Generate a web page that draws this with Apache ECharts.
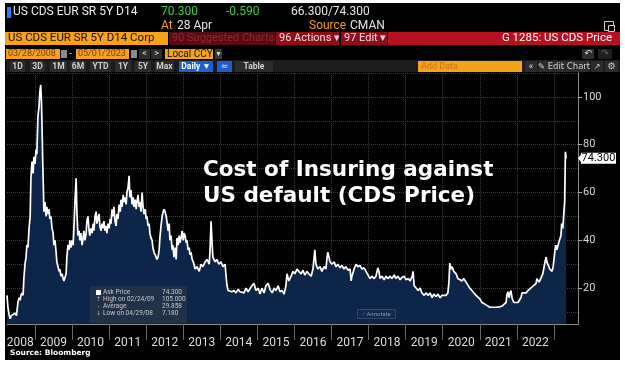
<!DOCTYPE html>
<html>
<head>
<meta charset="utf-8">
<script src="https://cdn.jsdelivr.net/npm/echarts@6.0.0/dist/echarts.min.js"></script>
<style>
  html, body { margin: 0; padding: 0; background: #fff; }
  #frame { position: absolute; left: 5px; top: 3px; width: 615px; height: 357px; background: #000; }
  #chart { position: absolute; left: 0; top: 0; width: 625px; height: 369px; }
</style>
</head>
<body>
<div id="frame"></div>
<div id="chart"></div>
<script>
// dates as decimal years
var dates = [
  2008.245, 2008.27, 2008.30, 2008.33, 2008.36, 2008.41, 2008.46, 2008.50, 2008.54, 2008.57,
  2008.60, 2008.62, 2008.65, 2008.68, 2008.70, 2008.73, 2008.76, 2008.78, 2008.81, 2008.84,
  2008.87, 2008.89, 2008.92, 2008.95, 2008.97, 2009.00, 2009.03, 2009.05, 2009.08, 2009.11,
  2009.13, 2009.155, 2009.175, 2009.19, 2009.21, 2009.23, 2009.24, 2009.27, 2009.30, 2009.32,
  2009.35, 2009.38, 2009.40, 2009.43, 2009.46, 2009.49, 2009.51, 2009.54, 2009.57, 2009.59,
  2009.62, 2009.65, 2009.67, 2009.70, 2009.73, 2009.76, 2009.78, 2009.81, 2009.84, 2009.86,
  2009.89, 2009.92, 2009.94, 2009.97, 2010.00, 2010.03, 2010.05, 2010.08, 2010.11, 2010.13,
  2010.16, 2010.19, 2010.21, 2010.24, 2010.27, 2010.30, 2010.32, 2010.35, 2010.38, 2010.40,
  2010.43, 2010.46, 2010.48, 2010.51, 2010.54, 2010.57, 2010.59, 2010.62, 2010.65, 2010.67,
  2010.70, 2010.73, 2010.75, 2010.78, 2010.81, 2010.83, 2010.86, 2010.89, 2010.92, 2010.94,
  2010.97, 2011.00, 2011.03, 2011.05, 2011.08, 2011.11, 2011.13, 2011.16, 2011.19, 2011.21,
  2011.24, 2011.27, 2011.30, 2011.32, 2011.35, 2011.38, 2011.40, 2011.43, 2011.46, 2011.48,
  2011.51, 2011.54, 2011.56, 2011.59, 2011.62, 2011.65, 2011.67, 2011.70, 2011.73, 2011.75,
  2011.78, 2011.81, 2011.83, 2011.86, 2011.89, 2011.91, 2011.94, 2011.97, 2012.00, 2012.02,
  2012.05, 2012.08, 2012.10, 2012.13, 2012.16, 2012.18, 2012.21, 2012.24, 2012.27, 2012.29,
  2012.32, 2012.35, 2012.37, 2012.40, 2012.43, 2012.46, 2012.48, 2012.51, 2012.54, 2012.56,
  2012.59, 2012.62, 2012.64, 2012.67, 2012.70, 2012.72, 2012.75, 2012.78, 2012.81, 2012.83,
  2012.86, 2012.89, 2012.91, 2012.94, 2012.97, 2013.00, 2013.02, 2013.05, 2013.08, 2013.10,
  2013.13, 2013.16, 2013.18, 2013.21, 2013.24, 2013.27, 2013.29, 2013.32, 2013.37, 2013.43,
  2013.48, 2013.53, 2013.59, 2013.64, 2013.70, 2013.72, 2013.75, 2013.78, 2013.80, 2013.86,
  2013.91, 2013.96, 2014.02, 2014.07, 2014.13, 2014.15, 2014.18, 2014.21, 2014.26, 2014.31,
  2014.37, 2014.42, 2014.48, 2014.53, 2014.58, 2014.64, 2014.69, 2014.75, 2014.80, 2014.85,
  2014.91, 2014.96, 2015.02, 2015.07, 2015.12, 2015.18, 2015.23, 2015.29, 2015.34, 2015.40,
  2015.45, 2015.50, 2015.56, 2015.61, 2015.67, 2015.72, 2015.77, 2015.80, 2015.85, 2015.91,
  2015.96, 2016.01, 2016.07, 2016.12, 2016.18, 2016.23, 2016.28, 2016.34, 2016.39, 2016.45,
  2016.50, 2016.55, 2016.58, 2016.63, 2016.69, 2016.74, 2016.80, 2016.85, 2016.88, 2016.90,
  2016.96, 2017.01, 2017.07, 2017.12, 2017.17, 2017.23, 2017.28, 2017.34, 2017.39, 2017.44,
  2017.50, 2017.53, 2017.55, 2017.61, 2017.66, 2017.71, 2017.77, 2017.82, 2017.88, 2017.93,
  2017.98, 2018.04, 2018.09, 2018.15, 2018.20, 2018.25, 2018.28, 2018.31, 2018.36, 2018.42,
  2018.47, 2018.52, 2018.58, 2018.63, 2018.69, 2018.74, 2018.79, 2018.85, 2018.90, 2018.96,
  2019.01, 2019.07, 2019.12, 2019.18, 2019.20, 2019.23, 2019.28, 2019.34, 2019.39, 2019.44,
  2019.50, 2019.55, 2019.61, 2019.66, 2019.71, 2019.76, 2019.82, 2019.87, 2019.93, 2019.98,
  2020.03, 2020.09, 2020.14, 2020.17, 2020.19, 2020.22, 2020.25, 2020.30, 2020.36, 2020.41,
  2020.46, 2020.52, 2020.57, 2020.63, 2020.68, 2020.73, 2020.79, 2020.84, 2020.90, 2020.95,
  2021.00, 2021.06, 2021.11, 2021.17, 2021.22, 2021.27, 2021.33, 2021.38, 2021.44, 2021.49,
  2021.54, 2021.60, 2021.65, 2021.71, 2021.73, 2021.76, 2021.79, 2021.81, 2021.84, 2021.87,
  2021.89, 2021.92, 2021.97, 2022.03, 2022.08, 2022.11, 2022.14, 2022.19, 2022.25, 2022.30,
  2022.35, 2022.41, 2022.46, 2022.52, 2022.54, 2022.60, 2022.65, 2022.70, 2022.76, 2022.79,
  2022.81, 2022.84, 2022.89, 2022.95, 2022.98, 2023.03, 2023.05, 2023.08, 2023.13, 2023.19,
  2023.21, 2023.24, 2023.27, 2023.29, 2023.31, 2023.33
];
// ask price
var askPrice = [
  17, 12, 9, 7.2, 8.5, 8, 9.5, 8.5, 14, 16,
  15, 17, 18, 17, 24, 30, 33, 38, 37, 45,
  50, 66, 73, 68, 75, 72, 78, 76, 92, 96,
  102, 105, 98, 88, 72, 60, 52, 56, 50, 54,
  51, 53, 49, 50, 45, 43, 38, 40, 35, 31,
  29, 27, 28, 25, 26, 24, 23, 22.5, 26, 33,
  38, 36, 40, 37, 40, 38, 45, 57, 66, 52,
  42, 44, 40, 43, 38, 41, 44, 40, 43, 48,
  50, 44, 42, 45, 43, 47, 44, 50, 52, 47,
  49, 51, 46, 44, 47, 45, 48, 44, 46, 43,
  47, 45, 49, 47, 53, 50, 54, 48, 46, 51,
  49, 55, 52, 57, 54, 59, 56, 58, 55, 60,
  62, 67, 58, 61, 55, 58, 54, 57, 53, 56,
  59, 54, 56, 52, 60, 55, 51, 53, 49, 50,
  46, 47, 43, 41, 40, 37, 35, 34, 33, 32,
  33, 36, 41, 46, 50, 52, 53, 52, 50, 48,
  44, 47, 40, 42, 36, 38, 33, 37, 32, 41,
  38, 42, 39, 41, 44, 40, 43, 42, 39, 40,
  36, 37, 34, 35, 32, 31, 30, 28, 29, 27,
  30, 29, 31, 32, 30, 35, 48, 38, 33, 31,
  32, 30, 31, 29, 30, 26, 21, 19, 19.5, 18.5,
  19, 18, 19.5, 18.5, 19, 18, 20, 18.5, 19, 21,
  22, 19, 20, 17.5, 20, 18, 21, 22, 19.5, 18,
  20, 19, 21, 18.5, 19, 17.5, 21, 26, 23, 25,
  27, 26, 28, 27, 26, 27.5, 25.5, 27, 26, 25,
  28, 36, 30, 28, 29, 27, 29, 28, 33, 35,
  31, 30, 31, 29, 30, 28.5, 29.5, 28, 29, 27.5,
  28, 23, 25, 28, 30, 29, 29.5, 28, 28.5, 27,
  27.5, 24, 25, 24, 25, 28.5, 27, 24, 25, 23.5,
  25, 24, 25, 24, 25.5, 24, 25, 23.5, 24.5, 25,
  23.5, 24, 23, 25, 27, 21, 20.5, 19, 20, 18,
  17, 18, 17, 18, 16, 17.5, 16.5, 17.5, 16, 17,
  16.5, 17, 18, 23, 30.5, 28, 29, 27, 26, 24,
  24.5, 23, 24, 22.5, 22, 20, 19, 18, 17, 16.5,
  15.5, 14, 13.5, 13, 12.5, 12, 12, 11.8, 12, 12,
  12.2, 12.5, 13, 14, 17, 18.5, 16, 17.5, 19, 16,
  15, 14, 14, 14, 14, 16, 18, 18.5, 18, 19,
  19.5, 20.5, 21, 22, 24, 22.5, 23, 26, 31, 33,
  31, 30.5, 28, 27, 29, 36, 38, 36, 39, 42,
  47, 45, 52, 56, 77, 74.3
];
var yearTicks = [2009, 2010, 2011, 2012, 2013, 2014, 2015, 2016, 2017, 2018, 2019, 2020, 2021, 2022, 2023];
var yearLabelPos = [2008.6, 2009.5, 2010.5, 2011.5, 2012.5, 2013.5, 2014.5, 2015.5, 2016.5, 2017.5, 2018.5, 2019.5, 2020.5, 2021.5, 2022.5];
var priceLabels = [20, 40, 60, 80, 100];
var priceGrid = [10, 20, 30, 40, 50, 60, 70, 80, 90, 100, 110];
var statNames = ['Ask Price', 'High on 02/24/09', 'Average', 'Low on 04/29/08'];
var statValues = ['74.300', '105.000', '29.858', '7.180'];

var seriesData = [];
for (var i = 0; i < Math.min(dates.length, askPrice.length); i++) {
  seriesData.push([dates[i], askPrice[i]]);
}

var chart = echarts.init(document.getElementById('chart'), null, { renderer: 'canvas' });

var option = {
  animation: false,
  backgroundColor: 'transparent',
  grid: { left: 7, right: 47, top: 73, bottom: 45, containLabel: false },
  xAxis: {
    type: 'value',
    min: 2008.245,
    max: 2023.65,
    axisLine: { show: true, lineStyle: { color: '#8c8c8c', width: 1 } },
    axisTick: { show: true, customValues: yearTicks, length: 16, lineStyle: { color: '#6a6a6a' } },
    splitLine: { show: true, lineStyle: { type: 'dotted', color: '#3c3c3c' } },
    axisLabel: {
      customValues: yearLabelPos,
      formatter: function (v) { return String(Math.floor(v)); },
      color: '#dedede', fontSize: 12, fontFamily: 'Roboto', margin: 13
    }
  },
  yAxis: [{
    type: 'value',
    position: 'right',
    min: 5,
    max: 110,
    axisLine: { show: true, lineStyle: { color: '#8c8c8c' } },
    axisTick: { show: true, customValues: priceLabels, length: 4, inside: false, lineStyle: { color: '#aaaaaa' } },
    splitLine: { show: false },
    axisLabel: { customValues: priceLabels, color: '#d8d8d8', fontSize: 11, fontFamily: 'Roboto', margin: 5 }
  }, {
    type: 'value',
    position: 'right',
    min: 5,
    max: 110,
    axisLine: { show: false },
    axisTick: { show: false, customValues: priceGrid },
    axisLabel: { show: false },
    splitLine: { show: true, lineStyle: { type: 'dotted', color: '#3c3c3c' } }
  }],
  series: [{
    type: 'line',
    name: 'Ask Price',
    data: seriesData,
    yAxisIndex: 0,
    showSymbol: false,
    lineStyle: { color: '#ffffff', width: 1.7 },
    areaStyle: { color: '#0c2548', opacity: 1, origin: 'start' },
    z: 3
  }]
};
chart.setOption(option);

function txt(x, y, s, color, font, align) {
  return {
    type: 'text', x: x, y: y, z: 20,
    style: { text: s, fill: color, font: font, textAlign: align || 'left', textVerticalAlign: 'middle', align: align || 'left', verticalAlign: 'middle' }
  };
}
function box(x, y, w, h, fill, stroke) {
  return {
    type: 'rect', z: 10,
    shape: { x: x, y: y, width: w, height: h },
    style: { fill: fill, stroke: stroke || null, lineWidth: stroke ? 1 : 0 }
  };
}

var hdr = '12px Roboto';
var g = [];
// row 1
g.push(box(7, 7, 4, 11, '#2b7bff'));
g.push(txt(13, 12, 'US CDS EUR SR 5Y D14', '#ececec', hdr));
g.push(txt(161, 12, '70.300', '#3fcf3f', hdr));
g.push(txt(226, 12, '-0.590', '#3fcf3f', hdr));
g.push(txt(291, 12, '66.300/74.300', '#e6e6e6', hdr));
// row 2
g.push(txt(161, 26, 'At', '#f39b1c', hdr));
g.push(txt(177, 26, '28 Apr', '#e6e6e6', hdr));
g.push(txt(309, 26, 'Source', '#f39b1c', hdr));
g.push(txt(350, 26, 'CMAN', '#e6e6e6', hdr));
g.push(box(604.5, 21.5, 9, 9, null, '#cfcfcf'));
g.push(box(608.5, 25.5, 6, 6, '#000', '#cfcfcf'));
// row 3
g.push(box(5, 32, 163, 13, '#f7a21b'));
g.push(txt(8, 38.5, 'US CDS EUR SR 5Y D14 Corp', '#111', '11.5px Roboto'));
g.push(box(169, 32, 106, 13, '#5a0a12'));
g.push(txt(172, 38.5, '90 Suggested Charts', '#8e2a34', '11px Roboto'));
g.push(box(276, 32, 63, 13, '#8e0f1b'));
g.push(txt(279, 38.5, '96 Actions \u25BE', '#f2dcdc', '11px Roboto'));
g.push(box(341, 32, 46, 13, '#8e0f1b'));
g.push(txt(344, 38.5, '97 Edit \u25BE', '#f2dcdc', '11px Roboto'));
g.push(box(388, 32, 232, 13, '#b3121e'));
g.push(txt(612, 38.5, 'G 1285: US CDS Price', '#ffffff', '11.5px Roboto', 'right'));
// row 4
g.push(box(6, 49, 54, 10, '#f7a21b'));
g.push(txt(8, 54, '03/28/2008', '#7a3a00', '9px Roboto'));
g.push(box(61, 50, 6, 8, '#8a8a8a'));
g.push(txt(69, 54, '-', '#cccccc', '10px Roboto'));
g.push(box(76, 49, 53, 10, '#f7a21b'));
g.push(txt(78, 54, '05/01/2023', '#7a3a00', '9px Roboto'));
g.push(box(131, 50, 6, 8, '#8a8a8a'));
g.push(box(139, 49, 11, 10, '#2e2e2e'));
g.push(txt(144.5, 54, '<', '#dddddd', '9px Roboto', 'center'));
g.push(box(151, 49, 11, 10, '#2e2e2e'));
g.push(txt(156.5, 54, '>', '#dddddd', '9px Roboto', 'center'));
g.push(box(165, 49, 48, 10, '#f7a21b'));
g.push(txt(167, 54, 'Local CCY', '#111', '10px Roboto'));
g.push(box(215, 49, 7, 10, '#3a3a3a'));
g.push(txt(218.5, 54, '\u25BE', '#dddddd', '8px "DejaVu Sans"', 'center'));
g.push(box(582, 49, 12, 10, '#2e2e2e'));
g.push(txt(588, 54, '\u21B6', '#dddddd', '9px "DejaVu Sans"', 'center'));
g.push(box(598, 49, 14, 10, '#1e1e1e'));
g.push(txt(605, 54, '\u21B7', '#666666', '9px "DejaVu Sans"', 'center'));
// row 5 toolbar
g.push(box(6, 60, 614, 12, '#1c1c1c'));
var buttons = [['1D', 10, 25], ['3D', 30, 45], ['1M', 50, 67], ['6M', 70, 86], ['YTD', 90, 111],
  ['1Y', 115, 131], ['5Y', 135, 151], ['Max', 155, 174]];
buttons.forEach(function (b) {
  g.push(box(b[1], 61, b[2] - b[1], 11, '#2c2c2c'));
  g.push(txt((b[1] + b[2]) / 2, 66.5, b[0], '#cfcfcf', 'bold 8.5px Roboto', 'center'));
});
g.push(box(179, 61, 34, 11, '#1d5fd1'));
g.push(txt(196, 66.5, 'Daily \u25BC', '#ffffff', 'bold 8.5px Roboto', 'center'));
g.push(box(217, 61, 15, 11, '#1d5fd1'));
g.push(txt(224.5, 66.5, '\u2248', '#cfe0ff', '9px "DejaVu Sans"', 'center'));
g.push(box(235, 61, 38, 11, '#2c2c2c'));
g.push(txt(254, 66.5, 'Table', '#cfcfcf', 'bold 8.5px Roboto', 'center'));
g.push(box(418, 61, 104, 11, '#f7a21b'));
g.push(txt(421, 66.5, 'Add Data', '#c2760c', '9px Roboto'));
g.push(box(525, 61, 12, 11, '#2c2c2c'));
g.push(txt(531, 66.5, '\u00AB', '#cfcfcf', 'bold 9px Roboto', 'center'));
g.push(box(539, 61, 50, 11, '#2c2c2c'));
g.push(txt(564, 66.5, '\u270E Edit Chart', '#cfcfcf', '8.5px "DejaVu Sans"', 'center'));
g.push(box(591, 61, 12, 11, '#2c2c2c'));
g.push(txt(597, 66.5, '\u2197', '#cfcfcf', '8px "DejaVu Sans"', 'center'));
g.push(box(605, 61, 13, 11, '#2c2c2c'));
g.push(txt(611.5, 66.5, '\u2699', '#cfcfcf', '9px "DejaVu Sans"', 'center'));

// headline
g.push(txt(203, 170, 'Cost of Insuring against', '#ffffff', 'bold 21.5px "DejaVu Sans"'));
g.push(txt(203, 196, 'US default (CDS Price)', '#ffffff', 'bold 21.5px "DejaVu Sans"'));

// stats box
g.push({ type: 'rect', z: 10, shape: { x: 90, y: 286, width: 97, height: 37 }, style: { fill: 'rgba(38,52,72,0.78)' } });
g.push(box(96, 290, 5, 5, '#ffffff'));
var icons = ['', '\u2191', '-', '\u2193'];
for (var k = 0; k < statNames.length; k++) {
  var yy = 292.5 + k * 7;
  if (icons[k]) g.push(txt(98.5, yy, icons[k], '#b8b8b8', '6px "DejaVu Sans"', 'center'));
  g.push(txt(103, yy, statNames[k], '#c8c8c8', '6.5px Roboto'));
  g.push(txt(162, yy, statValues[k], '#c8c8c8', '6.5px Roboto'));
}
// annotate button
g.push(box(357.5, 309.5, 38, 9, '#14294a', '#34496a'));
g.push(txt(376.5, 314, '\u2044 Annotate', '#8494aa', '6px Roboto', 'center'));

// source
g.push(txt(10, 353, 'Source: Bloomberg', '#ffffff', 'bold 7.5px "DejaVu Sans"'));

// last price tag on the axis
var lastVal = askPrice[askPrice.length - 1];
var tagY = chart.convertToPixel({ yAxisIndex: 0 }, lastVal);
var axisX = chart.convertToPixel({ xAxisIndex: 0 }, 2023.65);
g.push({ type: 'polygon', z: 12, shape: { points: [[axisX, tagY], [axisX + 4, tagY - 5], [axisX + 4, tagY + 5]] }, style: { fill: '#ffffff' } });
g.push(box(axisX + 3, tagY - 5.5, 35, 11, '#ffffff'));
g.push(txt(axisX + 20.5, tagY, lastVal.toFixed(3), '#000000', '11px Roboto', 'center'));

chart.setOption({ graphic: g });
</script>
</body>
</html>
